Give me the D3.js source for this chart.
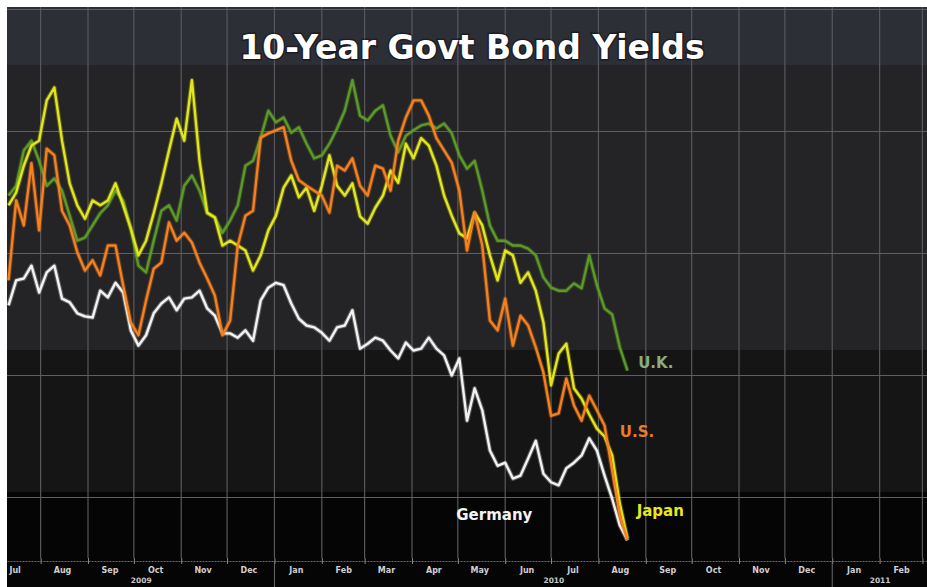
<!DOCTYPE html>
<html>
<head>
  <meta charset="utf-8">
  <title>10-Year Govt Bond Yields</title>
  <script src="https://cdnjs.cloudflare.com/ajax/libs/d3/7.8.5/d3.min.js"></script>
  <style>
    body { margin: 0; background: #fff; }
    svg { display: block; }
  </style>
</head>
<body>
<script>
  // readings every 5 days from 11 Jul 2009 to 20 Aug 2010
  // no y axis on the original, so values are an index (grid lines at 20/40/60/80)
  var startDay = new Date(2009, 6, 11);
  var endDay = new Date(2010, 7, 21);
  var stepDays = 5;

  var ukValues = [69.5, 71.1, 76.9, 78.5, 75.2, 71.1, 72.3, 70.3, 66.2, 62.1,
    62.6, 64.6, 66.6, 67.9, 70.3, 68.7, 64.1, 58.0, 56.9, 62.1,
    67.0, 67.9, 65.4, 71.1, 72.8, 70.3, 66.6, 65.9, 63.4, 65.4,
    67.9, 74.4, 75.2, 79.0, 83.4, 81.5, 82.3, 79.8, 80.7, 78.0,
    75.6, 76.1, 78.0, 80.5, 83.4, 88.4, 82.6, 81.8, 83.4, 84.3,
    79.3, 76.6, 79.3, 80.2, 81.0, 81.3, 80.5, 81.3, 79.7, 76.1,
    73.9, 75.2, 70.3, 64.6, 62.1, 62.1, 61.3, 61.3, 60.8, 59.7,
    56.1, 54.4, 53.9, 53.9, 55.1, 54.3, 59.7, 54.8, 51.0, 50.0,
    44.6, 40.8];

  var usValues = [55.6, 68.7, 64.6, 74.8, 63.8, 77.2, 76.1, 67.0, 64.6, 60.2,
    57.2, 58.9, 56.4, 61.3, 61.3, 54.8, 48.7, 46.6, 52.3, 57.5,
    58.5, 65.1, 62.1, 63.4, 61.8, 58.5, 55.9, 53.1, 46.6, 49.0,
    61.3, 66.2, 67.0, 79.0, 79.7, 80.2, 80.7, 75.2, 72.0, 71.1,
    70.3, 69.5, 66.7, 74.4, 73.6, 75.6, 71.1, 69.5, 74.4, 73.9,
    70.3, 78.5, 82.3, 85.1, 85.1, 82.6, 78.9, 76.9, 74.9, 70.3,
    60.5, 66.7, 61.3, 49.0, 47.4, 52.6, 44.9, 49.8, 48.2, 44.6,
    40.5, 33.4, 33.8, 39.5, 35.1, 32.6, 36.7, 34.3, 31.8, 24.4,
    17.0, 13.0];

  var japanValues = [67.9, 70.0, 74.4, 77.7, 78.5, 85.1, 87.2, 78.5, 71.5, 67.9,
    65.7, 68.7, 67.9, 68.7, 71.5, 67.9, 64.1, 59.7, 62.1, 66.6,
    71.5, 76.9, 82.1, 78.5, 88.4, 75.2, 66.7, 65.9, 61.3, 62.1,
    61.3, 60.5, 57.2, 59.7, 63.8, 66.2, 70.8, 72.8, 69.2, 70.8,
    67.0, 71.1, 76.1, 71.1, 69.5, 71.5, 66.1, 64.9, 67.5, 69.5,
    73.6, 71.6, 78.0, 75.6, 78.9, 77.7, 74.4, 69.5, 66.2, 63.3,
    62.5, 66.7, 64.6, 59.7, 55.6, 60.5, 59.7, 55.2, 56.9, 53.9,
    48.7, 38.4, 43.6, 45.2, 37.9, 36.2, 33.6, 31.3, 30.0, 26.9,
    19.0, 13.3];

  var germanyValues = [51.5, 55.6, 55.9, 58.0, 53.6, 56.9, 58.0, 52.6, 52.0, 50.2,
    49.7, 49.5, 53.9, 52.8, 55.2, 53.6, 47.4, 44.9, 46.6, 50.2,
    51.8, 52.8, 50.7, 52.6, 52.8, 53.9, 51.0, 49.8, 46.9, 46.9,
    46.2, 47.4, 45.7, 52.3, 54.4, 55.2, 54.8, 51.8, 49.3, 48.2,
    47.9, 47.0, 45.7, 47.9, 48.2, 50.7, 44.4, 45.2, 46.2, 45.7,
    44.1, 42.8, 45.4, 44.1, 44.4, 46.2, 44.4, 43.3, 40.0, 42.8,
    32.6, 37.9, 34.3, 27.7, 25.2, 25.7, 23.1, 23.6, 26.4, 29.3,
    23.9, 22.5, 22.0, 24.8, 25.7, 26.9, 29.7, 27.7, 23.6, 19.8,
    15.4, 13.0];

  var seriesNames = ["U.K.", "Germany", "Japan", "U.S."];
  var seriesColors = ["#5c9a28", "#f2f2f2", "#e2e61c", "#f5801f"];
  var labelColors = ["#8cab7e", "#f4f4f4", "#e8e81c", "#e67d2c"];
  // label anchors: date and index level
  var labelDates = [new Date(2010, 7, 27), new Date(2010, 3, 30), new Date(2010, 7, 26), new Date(2010, 7, 15)];
  var labelLevels = [41.3, 16.3, 16.9, 30.0];

  var monthNames = ["Jan", "Feb", "Mar", "Apr", "May", "Jun", "Jul", "Aug", "Sep", "Oct", "Nov", "Dec"];
  var yearLabels = ["2009", "2010", "2011"];
  var gridLevels = [20, 40, 60, 80, 100];

  var width = 927, height = 587;
  var plotLeft = 7, plotTop = 7, plotBottom = 558;

  var svg = d3.select("body").append("svg")
    .attr("width", width)
    .attr("height", height);

  var x = d3.scaleTime()
    .domain([new Date(2009, 6, 10), new Date(2011, 2, 4)])
    .range([plotLeft, width]);
  var y = d3.scaleLinear()
    .domain([0, 100])
    .range([619.5, 9.5]);

  var dates = d3.timeDay.range(startDay, endDay, stepDays);
  var allValues = [ukValues, germanyValues, japanValues, usValues];

  // background: white frame, then the darkening bands
  svg.append("rect").attr("width", width).attr("height", height).attr("fill", "#ffffff");
  var bands = [[plotTop, 65, "#2d2f37"], [65, 350, "#242426"], [350, 492, "#151515"], [492, height, "#050505"]];
  svg.append("g").selectAll("rect")
    .data(bands)
    .enter().append("rect")
      .attr("x", plotLeft)
      .attr("y", d => d[0])
      .attr("width", width - plotLeft)
      .attr("height", d => d[1] - d[0])
      .attr("fill", d => d[2]);

  // grid
  var months = d3.timeMonth.range(new Date(2009, 7, 1), new Date(2011, 2, 2));
  svg.append("g").selectAll("line")
    .data(months)
    .enter().append("line")
      .attr("x1", d => x(d)).attr("x2", d => x(d))
      .attr("y1", plotTop).attr("y2", plotBottom)
      .attr("stroke", "#58595e")
      .attr("stroke-width", 1.2);
  svg.append("g").selectAll("line")
    .data(gridLevels)
    .enter().append("line")
      .attr("x1", plotLeft).attr("x2", width)
      .attr("y1", d => y(d)).attr("y2", d => y(d))
      .attr("stroke", "#5e5f63")
      .attr("stroke-width", 1.2);

  // title
  svg.append("text")
    .attr("x", 472)
    .attr("y", 59)
    .attr("text-anchor", "middle")
    .style("font-family", "'DejaVu Sans', sans-serif")
    .style("font-weight", "bold")
    .style("font-size", "33px")
    .style("fill", "#ffffff")
    .style("paint-order", "stroke")
    .style("stroke", "rgba(0,0,0,0.4)")
    .style("stroke-width", "3px")
    .text("10-Year Govt Bond Yields");

  // lines, each with a faint glow under it
  var line = d3.line()
    .x((d, i) => x(dates[i]))
    .y(d => y(d));
  var lineGroups = svg.append("g").selectAll("g")
    .data(allValues)
    .enter().append("g");
  lineGroups.append("path")
    .attr("d", line)
    .attr("fill", "none")
    .attr("stroke", (d, i) => seriesColors[i])
    .attr("stroke-opacity", 0.3)
    .attr("stroke-width", 4.5)
    .attr("stroke-linejoin", "round");
  lineGroups.append("path")
    .attr("d", line)
    .attr("fill", "none")
    .attr("stroke", (d, i) => seriesColors[i])
    .attr("stroke-width", 2.4)
    .attr("stroke-linejoin", "round");

  // series labels
  svg.append("g").selectAll("text")
    .data(seriesNames)
    .enter().append("text")
      .attr("x", (d, i) => x(labelDates[i]))
      .attr("y", (d, i) => y(labelLevels[i]))
      .style("font-family", "'DejaVu Sans', sans-serif")
      .style("font-weight", "bold")
      .style("font-size", "15px")
      .style("fill", (d, i) => labelColors[i])
      .text(d => d);

  // x axis: month boundaries, month names mid-month, years under them
  var axisY = 561;
  var tickAxis = svg.append("g")
    .attr("transform", "translate(0," + axisY + ")")
    .call(d3.axisBottom(x).tickValues(months).tickSizeInner(3).tickSizeOuter(0).tickFormat(""));
  tickAxis.select(".domain").attr("stroke", "#6a6a6a").attr("stroke-dasharray", "2,1");
  tickAxis.selectAll(".tick line").attr("stroke", "#8a8a8a").attr("y1", -3);

  var midMonths = d3.timeMonth.range(new Date(2009, 6, 1), new Date(2011, 2, 1)).map(d => new Date(d.getFullYear(), d.getMonth(), 15));
  var monthAxis = svg.append("g")
    .attr("transform", "translate(0," + axisY + ")")
    .call(d3.axisBottom(x).tickValues(midMonths).tickSize(0).tickPadding(6).tickFormat(d => monthNames[d.getMonth()]));
  monthAxis.select(".domain").remove();
  monthAxis.selectAll("text")
    .style("font-family", "'DejaVu Sans', sans-serif")
    .style("font-weight", "bold")
    .style("font-size", "8px")
    .attr("fill", "#d0d0d0");

  var xr = x.domain();
  var yearMids = yearLabels.map(function (yr) {
    var a = new Date(+yr, 0, 1), b = new Date(+yr + 1, 0, 1);
    var lo = a < xr[0] ? xr[0] : a, hi = b > xr[1] ? xr[1] : b;
    return new Date((+lo + +hi) / 2);
  });
  var yearAxis = svg.append("g")
    .attr("transform", "translate(0," + axisY + ")")
    .call(d3.axisBottom(x).tickValues(yearMids).tickSize(0).tickPadding(17).tickFormat((d, i) => yearLabels[i]));
  yearAxis.select(".domain").remove();
  yearAxis.selectAll("text")
    .style("font-family", "'DejaVu Sans', sans-serif")
    .style("font-weight", "bold")
    .style("font-size", "7.5px")
    .attr("fill", "#c8c8c8");

  // year separators
  svg.append("g").selectAll("line")
    .data([new Date(2010, 0, 1), new Date(2011, 0, 1)])
    .enter().append("line")
      .attr("x1", d => x(d)).attr("x2", d => x(d))
      .attr("y1", axisY).attr("y2", height)
      .attr("stroke", "#6a6a6a")
      .attr("stroke-width", 1);
</script>
</body>
</html>
